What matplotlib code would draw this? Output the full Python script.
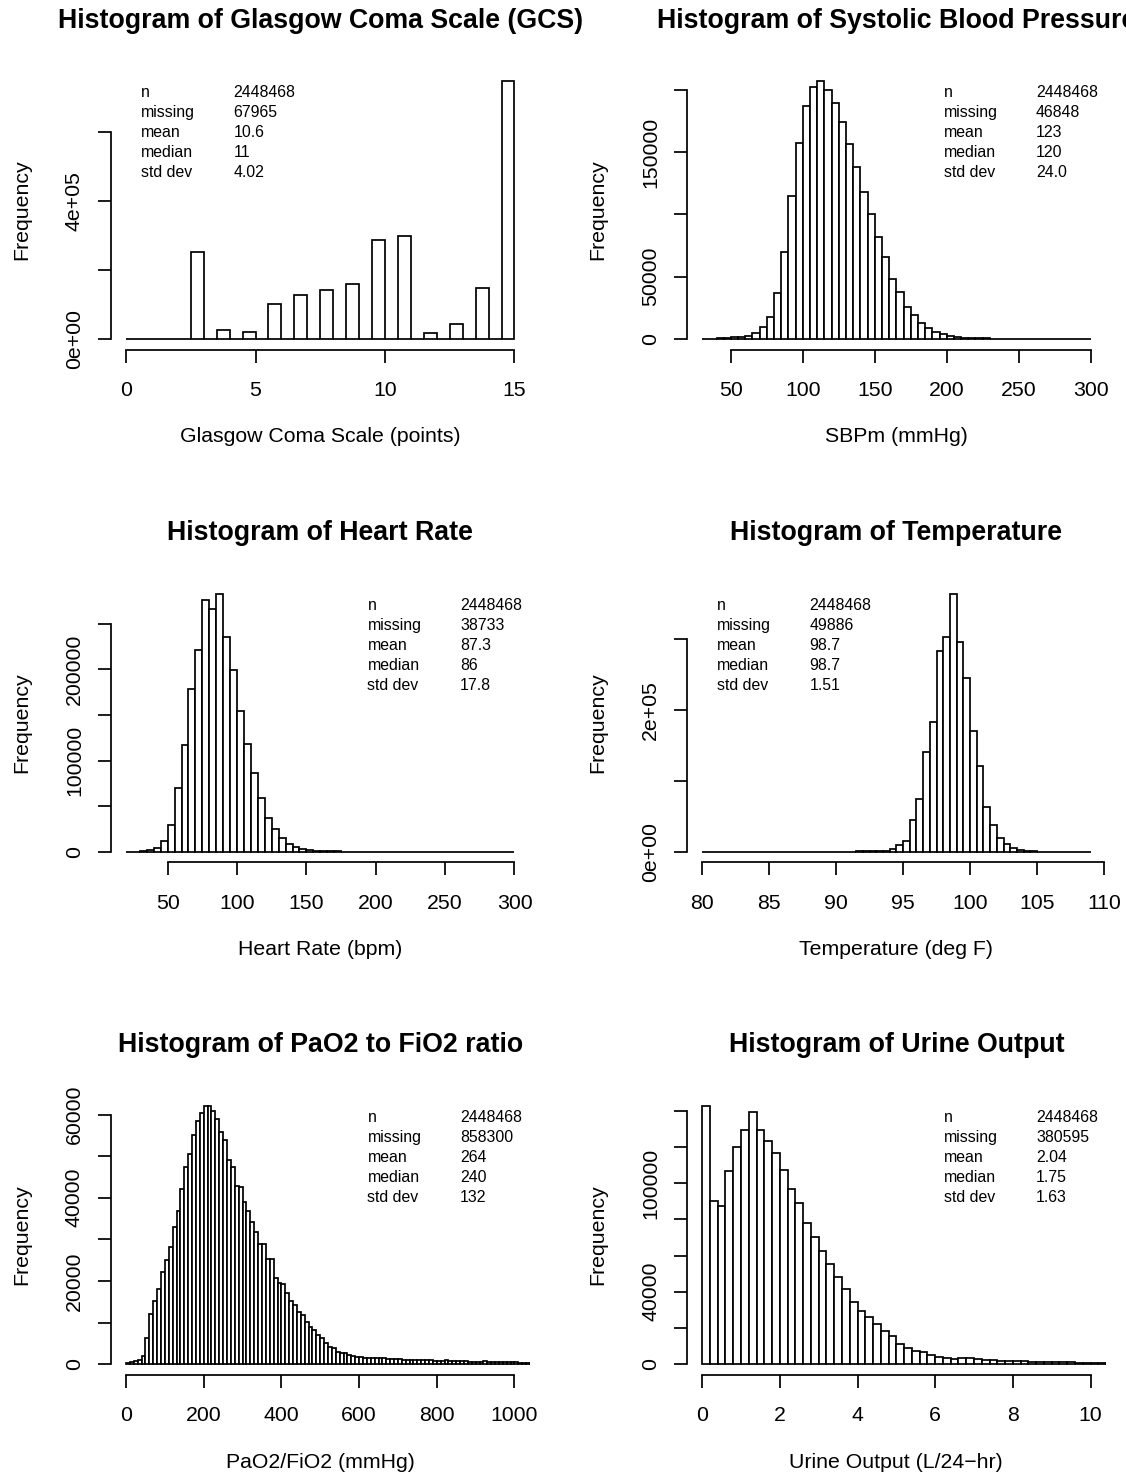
"""Six ICU vital-sign histograms in the style of R base graphics (hist + summary box).

Writes out.png (1126 x 1478 px).
"""

from __future__ import annotations

import matplotlib

matplotlib.use("Agg")
import matplotlib.pyplot as plt
import numpy as np

plt.rcParams["font.family"] = ["Liberation Sans", "DejaVu Sans"]

# ---------------------------------------------------------------- data (counts in thousands)
GCS_BINS = (0.0, 0.5)  # first break, bin width
GCS_COUNTS = [1.5, 0, 0, 0, 0, 254, 0, 27, 0, 20, 0, 101, 0, 129, 0,
              143, 0, 160, 0, 287, 0, 300, 0, 19, 0, 44, 0, 147, 0, 749]
GCS_STATS = ["2448468", "67965", "10.6", "11", "4.02"]

SBP_BINS = (30.0, 5.0)
SBP_COUNTS = [0.5, 0.5, 0.8, 1.0, 1.5, 2.0, 2.7, 4.8, 9.6, 18, 37, 70, 115, 157, 187,
              202, 207, 199.5, 189, 174, 156, 138, 118, 100, 82, 66, 48, 37.6, 26,
              19.5, 12.8, 9.3, 5.9, 4.0, 2.7, 1.6, 1.2, 1.0, 0.8, 0.6, 0.5, 0.4, 0.35,
              0.3, 0.25, 0.2, 0.2, 0.15, 0.15, 0.1, 0.1, 0.1, 0.1, 0.1]
SBP_STATS = ["2448468", "46848", "123", "120", "24.0"]

HR_BINS = (20.0, 5.0)
HR_COUNTS = [0.2, 0.3, 0.7, 2.5, 4.8, 11.7, 30, 70.5, 117.7, 178.7, 221, 276, 266, 283,
             235.7, 199, 154, 118, 86, 59, 37, 25.6, 15.4, 9.0, 5.5, 3.7, 2.2, 1.5, 1.0,
             0.8, 0.6, 0.5, 0.4, 0.3, 0.3, 0.2, 0.2, 0.2, 0.15, 0.15, 0.1, 0.1, 0.1, 0.1,
             0.1, 0.1, 0.1, 0.1, 0.1, 0.1, 0.1, 0.1, 0.1, 0.1, 0.1, 0.1]
HR_STATS = ["2448468", "38733", "87.3", "86", "17.8"]

TEMP_BINS = (80.0, 0.5)
TEMP_COUNTS = [0.1, 0.1, 0.1, 0.1, 0.1, 0.1, 0.1, 0.1, 0.1, 0.1, 0.2, 0.2, 0.2, 0.2, 0.2,
               0.3, 0.3, 0.3, 0.3, 0.3, 0.4, 0.5, 0.6, 0.7, 0.8, 1.0, 1.2, 1.4, 4.2, 10,
               15, 45.5, 75, 141, 183, 283, 303, 364, 296, 245.5, 171, 120.7, 64, 37.6,
               19.7, 11.7, 5.6, 3.3, 1.8, 1.0, 0.6, 0.4, 0.3, 0.2, 0.2, 0.1, 0.1, 0.1]
TEMP_STATS = ["2448468", "49886", "98.7", "98.7", "1.51"]

PF_BINS = (0.0, 10.0)
PF_COUNTS = [0.2, 0.5, 0.8, 0.9, 2.0, 6.3, 12, 15.1, 18, 22.2, 25, 28.2, 32.9, 36.7, 42.1,
             47.5, 50.5, 55.2, 58.4, 60.4, 62.1, 62.1, 60.9, 59, 55.8, 53.8, 49, 47.3,
             42.9, 42.6, 39, 36.9, 34.2, 31.7, 29, 28.8, 25.4, 25.2, 20.8, 19.4, 19.2, 17,
             15.2, 14.2, 12.6, 11.8, 10.2, 9.0, 8.2, 7.1, 6.2, 5.1, 4.2, 3.8, 3.0, 2.7,
             2.6, 2.2, 1.9, 1.8, 1.7, 1.6, 1.6, 1.5, 1.5, 1.4, 1.4, 1.3, 1.3, 1.2, 1.2,
             1.1, 1.1, 1.0, 1.0, 1.0, 0.9, 0.9, 0.9, 0.8, 0.8, 0.8, 0.9, 0.8, 0.7, 0.7,
             0.7, 0.7, 0.6, 0.6, 0.6, 0.6, 0.7, 0.6, 0.6, 0.5, 0.5, 0.5, 0.5, 0.5, 0.5,
             0.4, 0.4, 0.4, 0.4]
PF_STATS = ["2448468", "858300", "264", "240", "132"]

UO_BINS = (0.0, 0.2)
UO_COUNTS = [142.8, 90.3, 87.6, 106.9, 120.1, 129.3, 139.3, 129.7, 123.3, 116.8, 107.3,
             96.8, 88.9, 78.2, 70.5, 62.6, 55.2, 48.4, 41.8, 34.4, 29.4, 25.9, 22.1, 18.6,
             15.3, 11.2, 8.8, 7.5, 6.6, 5.2, 4.2, 3.3, 2.8, 3.3, 3.3, 2.6, 2.4, 2.2, 2.0,
             1.9, 1.6, 1.5, 1.4, 1.3, 1.2, 1.1, 1.1, 1.0, 0.9, 0.9, 0.8, 0.8, 0.7, 0.7]
UO_STATS = ["2448468", "380595", "2.04", "1.75", "1.63"]

STAT_NAMES = ["n", "missing", "mean", "median", "std dev"]

PANELS = [
    dict(title="Histogram of Glasgow Coma Scale (GCS)", xlabel="Glasgow Coma Scale (points)",
         bins=GCS_BINS, counts=GCS_COUNTS, stats=GCS_STATS, xlim=(0, 15),
         xticks=[0, 5, 10, 15], yticks=[0, 2e5, 4e5, 6e5],
         ylabels=["0e+00", "", "4e+05", ""], stats_left=True),
    dict(title="Histogram of Systolic Blood Pressure", xlabel="SBPm (mmHg)",
         bins=SBP_BINS, counts=SBP_COUNTS, stats=SBP_STATS, xlim=(30, 300),
         xticks=[50, 100, 150, 200, 250, 300], yticks=[0, 5e4, 1e5, 1.5e5, 2e5],
         ylabels=["0", "50000", "", "150000", ""], stats_left=False),
    dict(title="Histogram of Heart Rate", xlabel="Heart Rate (bpm)",
         bins=HR_BINS, counts=HR_COUNTS, stats=HR_STATS, xlim=(20, 300),
         xticks=[50, 100, 150, 200, 250, 300], yticks=[0, 5e4, 1e5, 1.5e5, 2e5, 2.5e5],
         ylabels=["0", "", "100000", "", "200000", ""], stats_left=False),
    dict(title="Histogram of Temperature", xlabel="Temperature (deg F)",
         bins=TEMP_BINS, counts=TEMP_COUNTS, stats=TEMP_STATS, xlim=(80, 109),
         xticks=[80, 85, 90, 95, 100, 105, 110], yticks=[0, 1e5, 2e5, 3e5],
         ylabels=["0e+00", "", "2e+05", ""], stats_left=True),
    dict(title="Histogram of PaO2 to FiO2 ratio", xlabel="PaO2/FiO2 (mmHg)",
         bins=PF_BINS, counts=PF_COUNTS, stats=PF_STATS, xlim=(0, 1000),
         xticks=[0, 200, 400, 600, 800, 1000], yticks=[0, 1e4, 2e4, 3e4, 4e4, 5e4, 6e4],
         ylabels=["0", "", "20000", "", "40000", "", "60000"], stats_left=False),
    dict(title="Histogram of Urine Output", xlabel="Urine Output (L/24\u2212hr)",
         bins=UO_BINS, counts=UO_COUNTS, stats=UO_STATS, xlim=(0, 10),
         xticks=[0, 2, 4, 6, 8, 10], yticks=[0, 2e4, 4e4, 6e4, 8e4, 1e5, 1.2e5, 1.4e5],
         ylabels=["0", "", "40000", "", "", "100000", "", ""], stats_left=False),
]

# ---------------------------------------------------------------- layout (pixels)
FIG_W, FIG_H = 1126, 1478
COL_X = [110.5, 686.6]
ROW_Y = [70.5, 583.3, 1095.5]
PLOT_W, PLOT_H = 419.5, 279.0
LW = 1.25
TITLE_PT, AXIS_PT, STATS_PT = 19.25, 15.3, 11.45


def fx(px: float) -> float:
    return px / FIG_W


def fy(py: float) -> float:
    return 1 - py / FIG_H


def draw_panel(fig, col: int, row: int, p: dict) -> None:
    left, top = COL_X[col], ROW_Y[row]
    ax = fig.add_axes([fx(left), fy(top + PLOT_H), PLOT_W / FIG_W, PLOT_H / FIG_H])

    start, width = p["bins"]
    counts = np.asarray(p["counts"]) * 1000.0
    edges = start + width * np.arange(len(counts))
    ax.bar(edges, counts, width=width, align="edge", facecolor="white",
           edgecolor="black", linewidth=LW)

    lo, hi = p["xlim"]
    span = hi - lo
    ax.set_xlim(lo - 0.04 * span, hi + 0.04 * span)
    ymax = counts.max()
    ax.set_ylim(-0.04 * ymax, 1.04 * ymax)

    for side in ("top", "right"):
        ax.spines[side].set_visible(False)
    for side in ("left", "bottom"):
        ax.spines[side].set_linewidth(LW)
    ax.spines["bottom"].set_bounds(p["xticks"][0], p["xticks"][-1])
    ax.spines["left"].set_bounds(p["yticks"][0], p["yticks"][-1])

    ax.set_xticks(p["xticks"], labels=[str(t) for t in p["xticks"]])
    ax.set_yticks(p["yticks"], labels=p["ylabels"], rotation=90, va="center")
    ax.tick_params(direction="out", length=9.1, width=LW, labelsize=AXIS_PT, pad=10)
    ax.tick_params(axis="x", pad=13.5)
    ax.patch.set_visible(False)

    cx = left + PLOT_W / 2
    fig.text(fx(cx), fy(top - 50), p["title"], ha="center", va="center",
             fontsize=TITLE_PT, fontweight="bold")
    fig.text(fx(cx), fy(top + PLOT_H + 87.5), p["xlabel"], ha="center", va="center",
             fontsize=AXIS_PT)
    fig.text(fx(left - 88.5), fy(top + PLOT_H / 2), "Frequency", ha="center",
             va="center", rotation=90, fontsize=AXIS_PT)

    name_x = left + (30.5 if p["stats_left"] else 257.0)
    for k, (name, value) in enumerate(zip(STAT_NAMES, p["stats"])):
        base = top + 26.2 + 20.1 * k
        fig.text(fx(name_x), fy(base), name, ha="left", va="baseline", fontsize=STATS_PT)
        fig.text(fx(name_x + 92.5), fy(base), value, ha="left", va="baseline",
                 fontsize=STATS_PT)


def main() -> None:
    fig = plt.figure(figsize=(FIG_W / 100, FIG_H / 100), dpi=100)
    fig.patch.set_facecolor("white")
    for i, panel in enumerate(PANELS):
        draw_panel(fig, i % 2, i // 2, panel)
    fig.savefig("out.png", dpi=100)


if __name__ == "__main__":
    main()
